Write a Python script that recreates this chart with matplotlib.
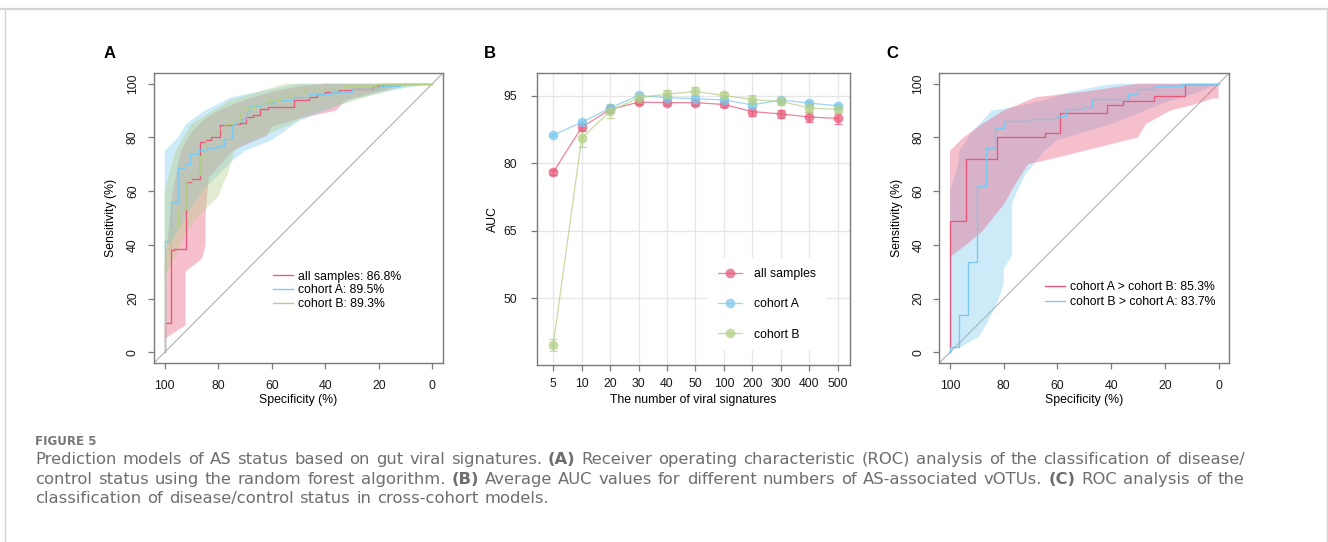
import matplotlib
matplotlib.use("Agg")
import matplotlib.pyplot as plt
import numpy as np
from matplotlib.lines import Line2D
from matplotlib.font_manager import FontProperties

plt.rcParams['font.family'] = ['Liberation Sans', 'DejaVu Sans']

# ---------------- data ----------------
# panel A: ROC step curves (specificity %, sensitivity %)
a_all_spec = [100, 100, 97.5, 96.5, 92.2, 90, 86.8, 85, 82.6, 79.4, 74.4, 72, 69.5, 67, 64.4, 61.5, 51.5, 46, 43, 40, 35, 30, 22, 18.5, 0]
a_all_sens = [0, 10.8, 38, 38.5, 63.5, 64.5, 78.3, 79, 80, 84.5, 85, 85.5, 87.5, 88.2, 90.5, 91.5, 94, 95, 96, 97, 97.5, 98, 99, 100, 100]
a_coA_spec = [100, 100, 97.5, 95, 92.5, 90.5, 87.5, 84.3, 80.6, 78, 75, 73, 71, 69.4, 68, 64, 59, 52, 46, 38, 30, 20, 12, 0]
a_coA_sens = [0, 41.5, 56, 68.5, 70, 74, 75.5, 76, 77, 79.5, 85, 86, 87, 90, 91.7, 93, 94, 95, 96, 97, 98, 99, 100, 100]
a_coB_spec = [100, 100, 97.5, 95, 92.2, 90, 86.8, 85, 80.6, 77.4, 74.4, 72, 70.6, 66.5, 64, 61.5, 57, 53, 48, 33, 21, 0]
a_coB_sens = [0, 38.5, 46.5, 53.5, 63.6, 66, 73, 81.5, 83, 85, 86, 89, 91, 92, 93, 94, 95, 96.5, 98, 99, 100, 100]

# panel A: confidence bands
a_all_up_spec = [100, 97, 94, 90, 85, 80, 70, 60, 50, 40, 20, 0]
a_all_up_sens = [32, 60, 75, 82, 87, 90, 94, 97, 99, 100, 100, 100]
a_all_lo_spec = [100, 92.2, 92.2, 86, 84.7, 84.7, 83.5, 79, 74.5, 68, 62, 60, 50, 36, 32, 20, 12, 0]
a_all_lo_sens = [5, 10, 30, 35, 40, 52, 65, 70, 75, 78, 80.5, 84, 87, 90, 94, 97, 99.5, 100]
a_coA_up_spec = [100, 95, 92, 85, 75, 60, 50, 0]
a_coA_up_sens = [75, 80, 85, 90, 95, 98, 100, 100]
a_coA_lo_spec = [100, 97, 94, 90, 86, 82, 78, 74, 70, 60, 50, 40, 30, 20, 10, 0]
a_coA_lo_sens = [39, 42, 47, 54, 60, 64, 68, 72, 75, 79, 86, 90, 94, 96.5, 98.5, 100]
a_coB_up_spec = [100, 96, 90, 82, 75, 55, 0]
a_coB_up_sens = [60, 75, 85, 90, 94, 100, 100]
a_coB_lo_spec = [100, 98, 95, 92, 88, 85, 83, 80, 78, 76.5, 74, 70, 62, 55, 45, 35, 25, 12, 0]
a_coB_lo_sens = [28, 32, 38, 45, 50, 53, 55, 58, 63, 66, 75, 78, 81, 84, 89, 92, 95, 98.5, 100]

# panel B: mean AUC by number of signatures
b_labels = ["5", "10", "20", "30", "40", "50", "100", "200", "300", "400", "500"]
b_all = [78.0, 88.0, 92.0, 93.6, 93.5, 93.5, 93.1, 91.5, 91.0, 90.3, 90.0]
b_all_err = [0.5, 0.8, 0.5, 0.4, 0.5, 0.5, 0.5, 0.9, 0.9, 1.1, 1.2]
b_coA = [86.3, 89.1, 92.3, 95.1, 94.6, 94.4, 94.1, 93.0, 94.1, 93.4, 92.8]
b_coA_err = [0.3, 0.4, 0.4, 0.5, 0.4, 0.5, 0.4, 0.5, 0.4, 0.5, 0.5]
b_coB = [39.5, 85.6, 91.6, 94.6, 95.4, 96.0, 95.1, 94.2, 93.8, 92.3, 92.0]
b_coB_err = [1.3, 2.0, 1.6, 1.0, 0.9, 0.9, 0.7, 0.9, 0.8, 0.8, 0.8]

# panel C: cross-cohort ROC
c_ab_spec = [100, 100, 94, 82.4, 64.8, 59.2, 41.5, 35.7, 24, 12.5, 0]
c_ab_sens = [0, 49, 72, 80, 81.5, 89, 92, 93.5, 95.5, 100, 100]
c_ba_spec = [100, 100, 96.5, 93.4, 90, 86.5, 83.4, 80, 70, 60.2, 57, 50.2, 47, 33.6, 30.5, 23.7, 13.7, 0]
c_ba_sens = [0, 2, 14, 33.5, 62, 76, 83.5, 86, 87, 88, 90.5, 91.5, 94.5, 96, 98, 99, 100, 100]
c_ab_up_spec = [100, 95, 88, 80, 68, 50, 30, 0]
c_ab_up_sens = [75, 80, 85, 90, 95, 97, 100, 100]
c_ab_lo_spec = [100, 94, 88, 84, 80, 76, 71, 60, 50, 40, 30, 27, 18, 10, 2, 0]
c_ab_lo_sens = [35.5, 40, 45, 50, 55, 62, 70, 72.5, 75, 77.5, 80, 85, 90, 92, 94.5, 94.5]
c_ba_up_spec = [100, 97, 96.5, 92, 88, 84.5, 75, 65, 55, 45, 38, 0]
c_ba_up_sens = [60, 70, 75, 82, 86, 90, 91.5, 94, 97, 99, 100, 100]
c_ba_lo_spec = [100, 96, 89, 84, 81, 80, 80, 77, 77, 75, 72, 65, 60, 50, 40, 30, 20, 10, 0]
c_ba_lo_sens = [1, 2, 6, 15, 22, 26, 31, 36, 55, 60, 66, 75, 79, 82, 85, 89, 93, 96, 100]

PINK = "#E8587A"
BLUE = "#7CC8EE"
GREEN = "#B3CF86"
AXC = "#7a7a7a"
FS = 8.8

W, H = 1328, 542
fig = plt.figure(figsize=(W / 100, H / 100), dpi=100)


def box(l, t, r, b):
    return [l / W, 1 - b / H, (r - l) / W, (b - t) / H]


def style(ax, xpad, ypad):
    for s in ax.spines.values():
        s.set_color(AXC)
        s.set_linewidth(1.0)
    ax.tick_params(direction="out", length=4.5, width=0.9, color=AXC,
                   labelsize=FS, labelcolor="#1a1a1a")
    ax.tick_params(axis="x", pad=xpad)
    ax.tick_params(axis="y", pad=ypad)


def roc_axes(ax):
    ax.set_xlim(104, -4)
    ax.set_ylim(-4, 104)
    ax.set_xticks([100, 80, 60, 40, 20, 0])
    ax.set_yticks([0, 20, 40, 60, 80, 100])
    for t in ax.get_yticklabels():
        t.set_rotation(90)
        t.set_va("center")
    ax.plot([104, -4], [-4, 104], color="#b8b8b8", lw=0.9, zorder=1)
    ax.set_xlabel("Specificity (%)", fontsize=FS, labelpad=2)
    ax.set_ylabel("Sensitivity (%)", fontsize=FS, labelpad=7)
    style(ax, 7.5, 6.3)


def band(ax, us, uy, ls, ly, color, alpha):
    xs = list(us) + list(ls)[::-1]
    ys = list(uy) + list(ly)[::-1]
    ax.fill(xs, ys, color=color, alpha=alpha, lw=0, zorder=2)


# ---------------- panel A ----------------
axA = fig.add_axes(box(154, 73, 443, 363))
band(axA, a_all_up_spec, a_all_up_sens, a_all_lo_spec, a_all_lo_sens, PINK, 0.38)
band(axA, a_coA_up_spec, a_coA_up_sens, a_coA_lo_spec, a_coA_lo_sens, BLUE, 0.38)
band(axA, a_coB_up_spec, a_coB_up_sens, a_coB_lo_spec, a_coB_lo_sens, GREEN, 0.38)
axA.step(a_all_spec, a_all_sens, where="post", color=PINK, lw=0.95, zorder=3, label="all samples: 86.8%")
axA.step(a_coA_spec, a_coA_sens, where="post", color=BLUE, lw=0.95, zorder=3, label="cohort A: 89.5%")
axA.step(a_coB_spec, a_coB_sens, where="post", color=GREEN, lw=0.95, zorder=3, label="cohort B: 89.3%")
roc_axes(axA)
axA.legend(loc="upper left", bbox_to_anchor=(0.394, 0.335), frameon=False, fontsize=FS,
           handlelength=1.65, handletextpad=0.45, labelspacing=0.14, borderaxespad=0)

# ---------------- panel B ----------------
axB = fig.add_axes(box(536.7, 73, 850, 365))
xb = np.arange(len(b_labels))
axB.set_axisbelow(True)
axB.grid(True, color="#e6e6e6", lw=0.9)
handles = []
for vals, err, col, lab in [(b_all, b_all_err, PINK, "all samples"),
                            (b_coA, b_coA_err, BLUE, "cohort A"),
                            (b_coB, b_coB_err, GREEN, "cohort B")]:
    axB.errorbar(xb, vals, yerr=err, color=col, lw=0.9, elinewidth=0.9, capsize=3,
                 capthick=0.9, marker="o", ms=7, mfc=col, mec="none", alpha=0.75,
                 zorder=3)
    handles.append(Line2D([], [], color=col, lw=0.9, marker="o", ms=7, mec="none",
                          alpha=0.75, label=lab))
axB.set_xlim(-0.58, 10.43)
axB.set_ylim(35.1, 100.1)
axB.set_xticks(xb)
axB.set_xticklabels(b_labels)
axB.set_yticks([50, 65, 80, 95])
axB.set_xlabel("The number of viral signatures", fontsize=FS, labelpad=3)
axB.set_ylabel("AUC", fontsize=FS, labelpad=3)
style(axB, 4.8, 9.5)
legB = axB.legend(handles=handles, loc="upper left", bbox_to_anchor=(0.547, 0.366),
                  frameon=True, fontsize=FS, handlelength=1.95, handletextpad=1.0,
                  labelspacing=1.5, borderpad=0.8, borderaxespad=0,
                  facecolor="white", edgecolor="none", framealpha=1)
legB.get_frame().set_boxstyle("square", pad=0)

# ---------------- panel C ----------------
axC = fig.add_axes(box(939.3, 73, 1229.3, 363))
band(axC, c_ba_up_spec, c_ba_up_sens, c_ba_lo_spec, c_ba_lo_sens, BLUE, 0.38)
band(axC, c_ab_up_spec, c_ab_up_sens, c_ab_lo_spec, c_ab_lo_sens, PINK, 0.38)
axC.step(c_ab_spec, c_ab_sens, where="post", color=PINK, lw=0.95, zorder=3, label="cohort A > cohort B: 85.3%")
axC.step(c_ba_spec, c_ba_sens, where="post", color=BLUE, lw=0.95, zorder=3, label="cohort B > cohort A: 83.7%")
roc_axes(axC)
axC.legend(loc="upper left", bbox_to_anchor=(0.347, 0.3), frameon=False, fontsize=FS,
           handlelength=1.65, handletextpad=0.45, labelspacing=0.25, borderaxespad=0)

# panel letters
for x, lab in [(110, "A"), (490, "B"), (892, "C")]:
    fig.text(x / W, 1 - 53 / H, lab, fontsize=12, fontweight="bold", ha="center", va="center")

# outer frame
fc = "#d4d4d4"
fig.add_artist(Line2D([0, 1], [1 - 8.5 / H] * 2, transform=fig.transFigure, color=fc, lw=1.6))
fig.add_artist(Line2D([4.5 / W] * 2, [0, 1 - 8.5 / H], transform=fig.transFigure, color=fc, lw=1.0))
fig.add_artist(Line2D([1 - 1.5 / W] * 2, [0, 1 - 8.5 / H], transform=fig.transFigure, color=fc, lw=1.0))

# ---------------- caption ----------------
CAPF = 'DejaVu Sans'
CAPC = "#6e6e6e"
CAPS = 11.75
renderer = fig.canvas.get_renderer()


def width(s, weight, size):
    fp = FontProperties(family=CAPF, weight=weight, size=size)
    return renderer.get_text_width_height_descent(s, fp, ismath=False)[0]


caption = [
    [("Prediction models of AS status based on gut viral signatures.", "normal"), ("(A)", "bold"),
     ("Receiver operating characteristic (ROC) analysis of the classification of disease/", "normal")],
    [("control status using the random forest algorithm.", "normal"), ("(B)", "bold"),
     ("Average AUC values for different numbers of AS-associated vOTUs.", "normal"), ("(C)", "bold"),
     ("ROC analysis of the", "normal")],
    [("classification of disease/control status in cross-cohort models.", "normal")],
]


def words(line):
    out = []
    for txt, weight in line:
        out += [(w, weight) for w in txt.split(" ")]
    return out


# word gap chosen so the first line spans the same width as in the original
w1 = words(caption[0])
gap = (1245 - 35 - sum(width(w, wt, CAPS) for w, wt in w1)) / (len(w1) - 1)

fig.text(35 / W, 1 - 445 / H, "FIGURE 5", fontsize=8.6, family=CAPF, fontweight="bold",
         color="#777777", va="baseline")
for i, line in enumerate(caption):
    x = 35
    for w, wt in words(line):
        fig.text(x / W, 1 - (464 + i * 19.6) / H, w, fontsize=CAPS, family=CAPF,
                 fontweight=wt, color=CAPC, va="baseline")
        x += width(w, wt, CAPS) + gap

fig.savefig("out.png", dpi=100)
